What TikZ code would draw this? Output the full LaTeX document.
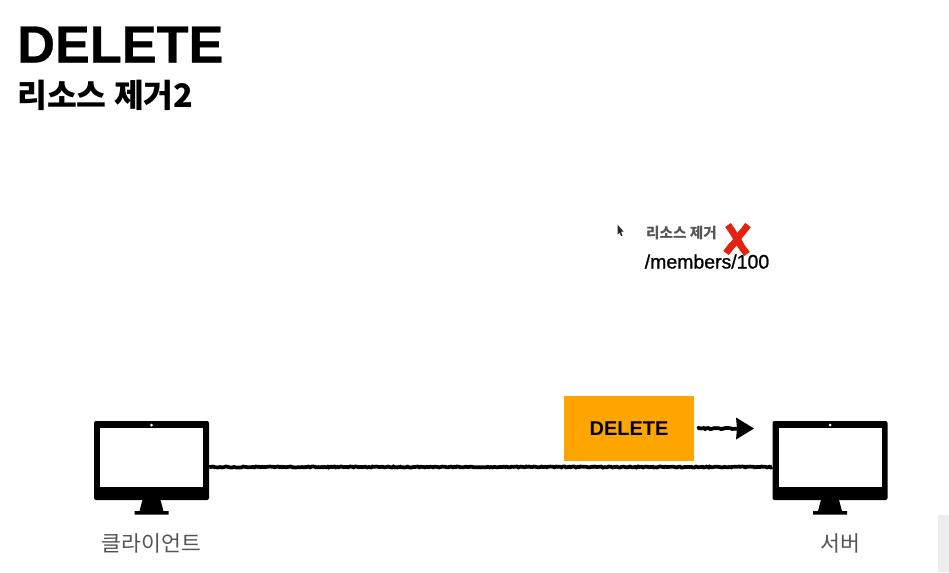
\documentclass[tikz,border=0pt]{standalone}
\usepackage{fontspec}
\setmainfont{Noto Sans CJK KR}
\newfontfamily\latinfont{Liberation Sans}
\newfontfamily\titlefont[FakeBold=0.5,UprightFont=* Bold]{Liberation Sans}
\newfontfamily\pathfont[FakeBold=1]{Liberation Sans}
\usetikzlibrary{calc,arrows.meta,decorations.pathmorphing}
\definecolor{boxorange}{HTML}{FFA500}
\definecolor{labelgrey}{HTML}{555555}
\definecolor{xred}{HTML}{E5210F}
\tikzset{
    monitorbody/.style={fill=black,rounded corners=1.5pt,minimum width=86.25pt,minimum height=59.25pt,inner sep=0pt},
    monitorscreen/.style={fill=white,minimum width=77.25pt,minimum height=44.25pt,inner sep=0pt},
    monitorlabel/.style={text=labelgrey,font=\fontsize{16.2}{18}\selectfont},
    roughline/.style={line width=2.8pt,black,decorate,decoration={random steps,segment length=1.2pt,amplitude=.4pt}},
    crossline/.style={line width=5.2pt,xred,decorate,decoration={random steps,segment length=5pt,amplitude=.5pt}}
}
\begin{document}
\begin{tikzpicture}[x=.75pt,y=-.75pt]
        \useasboundingbox (0,0) rectangle (949,572);
        \fill[black!7] (938,515) rectangle (949,572);
        \node[anchor=base west,inner sep=0pt,font=\titlefont\fontsize{39.2}{40}\selectfont] (title) at (17,62.5) {DELETE};
        \node[anchor=base west,inner sep=0pt,font=\bfseries\fontsize{24.3}{26}\selectfont] (subtitle) at (17,107) {리소스 제거2};
        \foreach \mon/\cx/\lx/\txt in {client/151.5/151.5/클라이언트,server/830/840.5/서버}{
            \fill (\cx-8.5,498)--(\cx+8.5,498)--(\cx+12,511)--(\cx+17,511)--(\cx+17,514.5)--(\cx-17,514.5)--(\cx-17,511)--(\cx-12,511)--cycle;
            \node[monitorbody] (\mon) at (\cx,460.5) {};
            \node[monitorscreen] (\mon screen) at (\cx,457.5) {};
            \fill[white] (\cx,425) circle (1.5);
            \node[monitorlabel] (\mon label) at (\lx,543) {\txt};
            }
        \coordinate (linestart) at ($(client.east)+(0,6.5)$);
        \coordinate (lineend) at ($(server.west)+(0,6.5)$);
        \draw[roughline] (linestart)--(lineend);
        \node[fill=boxorange,minimum width=97.5pt,minimum height=48.5pt,inner sep=0pt,font=\latinfont\bfseries\fontsize{15}{16}\selectfont] (delete) at (629,428.5) {DELETE};
        \coordinate (arrowend) at (754,428.5);
        \draw[roughline] ($(delete.east)+(3,0)$)--($(arrowend)+(-14,0)$);
        \fill ($(arrowend)+(-18,-11)$)--(arrowend)--($(arrowend)+(-18,11)$)--($(arrowend)+(-17,0)$)--cycle;
        \fill[black!85] (617.5,224.5)--(623.5,231.5)--(621,231.8)--(622.5,235.5)--(621,236)--(619.5,232.5)--(617.5,234.5)--cycle;
        \node[text=labelgrey,font=\bfseries\fontsize{11}{12}\selectfont] (resource) at (681.5,233) {리소스 제거};
        \node[anchor=base west,inner sep=0pt,font=\pathfont\fontsize{14.6}{16}\selectfont] (path) at (644.5,268.5) {/members/100};
        \draw[crossline] (728,225)--(747,254);
        \draw[crossline] (748,225)--(726,253);
    \end{tikzpicture}
\end{document}
